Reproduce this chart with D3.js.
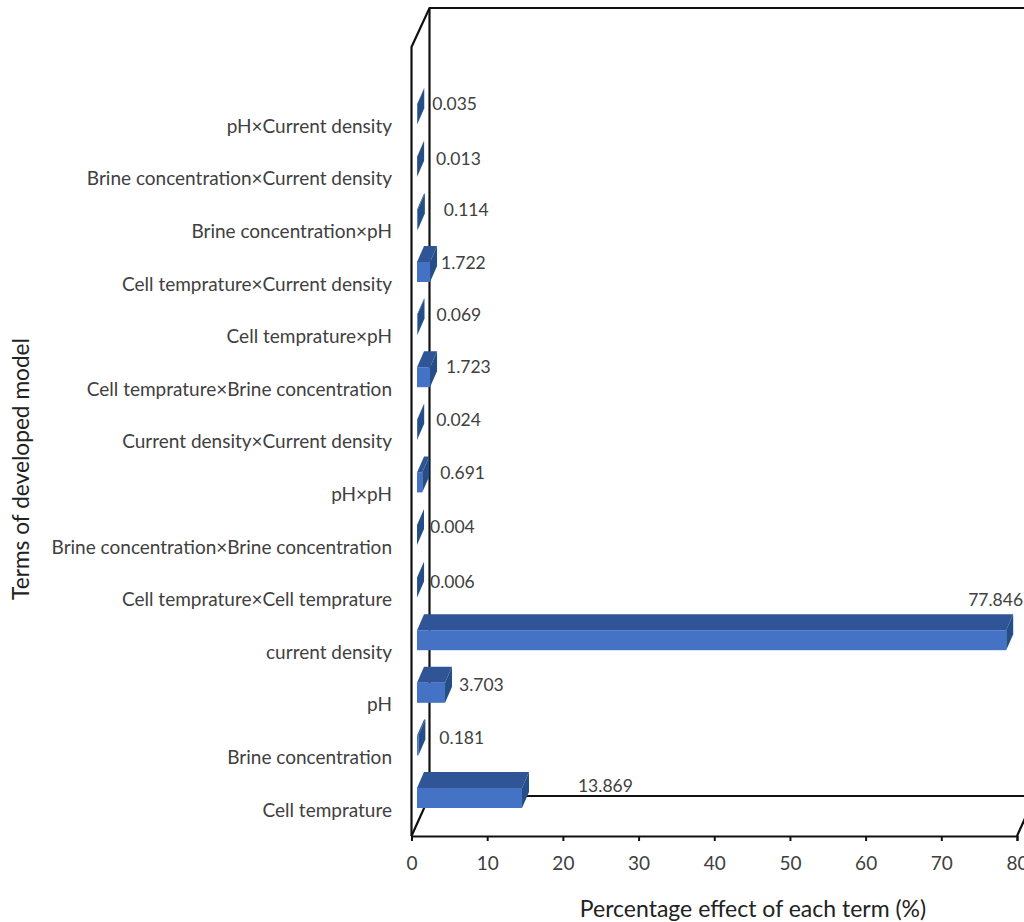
<!DOCTYPE html>
<html>
<head>
<meta charset="utf-8">
<script src="https://cdn.jsdelivr.net/npm/d3@7"></script>
<style>
  html, body { margin: 0; padding: 0; background: #fff; overflow: hidden; }
  svg { display: block; font-family: Lato, sans-serif; }
</style>
</head>
<body>
<svg id="chart" width="1024" height="922"></svg>
<script>
// bottom to top, same order as the chart
const terms = [
  'Cell temprature', 'Brine concentration', 'pH', 'current density',
  'Cell temprature×Cell temprature', 'Brine concentration×Brine concentration',
  'pH×pH', 'Current density×Current density',
  'Cell temprature×Brine concentration', 'Cell temprature×pH',
  'Cell temprature×Current density', 'Brine concentration×pH',
  'Brine concentration×Current density', 'pH×Current density'
];
const effects = [13.869, 0.181, 3.703, 77.846, 0.006, 0.004, 0.691, 0.024, 1.723, 0.069, 1.722, 0.114, 0.013, 0.035];
const effectLabels = ['13.869', '0.181', '3.703', '77.846', '0.006', '0.004', '0.691', '0.024', '1.723', '0.069', '1.722', '0.114', '0.013', '0.035'];
const xTicks = [0, 10, 20, 30, 40, 50, 60, 70, 80];

// data labels were hand-moved in the original, so nudge them per bar
const labelDx = [49, 14, 7, -45, 6, 6, 11, 12, 9, 12, 4, 19, 12, 8];
const labelDy = [-3, 2, 2, -31, 4, 1, 0, 0, -1, 0, 0, 0, 2, -1];

const svg = d3.select('#chart');

const floorY = 836, topY = 47;
const depthX = 18, depthY = 40;  // box depth
const barInset = 5.5, barH = 20, barDepthX = 7, barDepthY = 16;

const x = d3.scaleLinear().domain([0, 80]).range([411.5, 1017]);
const y = d3.scaleBand().domain(terms).range([824.3, 87.9]);

const barLeft = x(0) + barInset;
const barRight = v => x(v) + barInset;
const barTop = t => y(t) + y.bandwidth() / 2 - barH / 2;

// box outline
const frame = svg.append('g').attr('fill', 'none').attr('stroke', '#111').attr('stroke-width', 2.2);
const x0 = x(0), x80 = x(80);
const framePaths = [
  [[x0, floorY], [x0, topY], [x0 + depthX, topY - depthY + 1], [1024, topY - depthY + 1]],
  [[x0 + depthX, topY - depthY + 1], [x0 + depthX, floorY - depthY]],
  [[x0, floorY], [x0 + depthX, floorY - depthY], [1024, floorY - depthY]],
  [[x80, floorY], [x80 + depthX, floorY - depthY]]
];
frame.selectAll('path').data(framePaths).enter().append('path')
  .attr('d', d3.line());

// bars
const bars = svg.append('g').selectAll('g').data(terms).enter().append('g');
const valueOf = t => effects[terms.indexOf(t)];
const pts = a => a.map(p => p.join(',')).join(' ');

bars.append('polygon')
  .attr('fill', '#2f5597')
  .attr('points', t => {
    const r = barRight(valueOf(t)), top = barTop(t);
    return pts([[barLeft, top], [barLeft + barDepthX, top - barDepthY], [r + barDepthX, top - barDepthY], [r, top]]);
  });
bars.append('polygon')
  .attr('fill', '#264e86')
  .attr('points', t => {
    const r = barRight(valueOf(t)), top = barTop(t);
    return pts([[r, top], [r + barDepthX, top - barDepthY], [r + barDepthX, top - barDepthY + barH], [r, top + barH]]);
  });
bars.append('rect')
  .attr('x', barLeft)
  .attr('y', t => barTop(t))
  .attr('width', t => barRight(valueOf(t)) - barLeft)
  .attr('height', barH)
  .attr('fill', '#4472c4');

// value labels
svg.append('g').selectAll('text').data(terms).enter().append('text')
  .attr('x', (t, i) => barRight(effects[i]) + barDepthX + labelDx[i])
  .attr('y', t => y(t) + y.bandwidth() / 2 - 3.5)
  .attr('dy', (t, i) => labelDy[i])
  .attr('font-size', 17.5)
  .attr('fill', '#404040')
  .text((t, i) => effectLabels[i]);

// x axis
const xAxis = svg.append('g')
  .attr('transform', `translate(0,${floorY})`)
  .call(d3.axisBottom(x).tickValues(xTicks).tickSize(5).tickSizeOuter(5).tickPadding(16));
xAxis.selectAll('path, line').attr('stroke', '#111').attr('stroke-width', 2);
xAxis.selectAll('text').attr('font-family', 'Lato, sans-serif').attr('font-size', 19).attr('fill', '#404040');

// category labels sit a little under their bars
const yAxis = svg.append('g')
  .attr('transform', 'translate(392,12.5)')
  .call(d3.axisLeft(y).tickSize(0).tickPadding(0));
yAxis.select('.domain').remove();
yAxis.selectAll('text').attr('font-family', 'Lato, sans-serif').attr('font-size', 19).attr('fill', '#404040');

svg.append('text')
  .attr('x', 753).attr('y', 917)
  .attr('text-anchor', 'middle')
  .attr('font-size', 23).attr('fill', '#222')
  .text('Percentage effect of each term (%)');

svg.append('text')
  .attr('transform', 'translate(29,469) rotate(-90)')
  .attr('text-anchor', 'middle')
  .attr('font-size', 22.7).attr('fill', '#222')
  .text('Terms of developed model');
</script>
</body>
</html>
